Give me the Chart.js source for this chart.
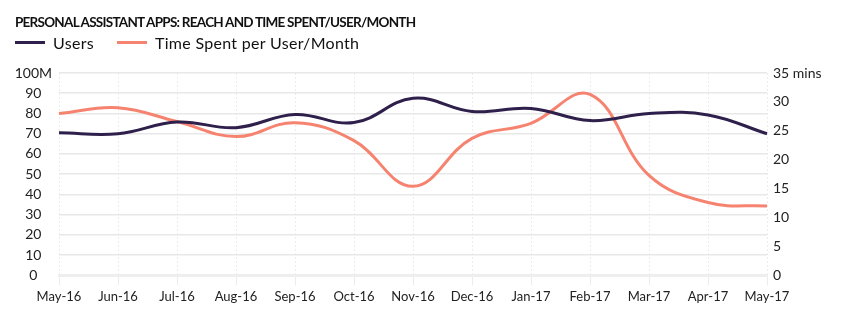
<!DOCTYPE html>
<html>
<head>
<meta charset="utf-8">
<script src="https://cdn.jsdelivr.net/npm/chart.js@4"></script>
<style>
  html, body { margin: 0; padding: 0; background: #fff; }
  #wrap { position: relative; width: 846px; height: 331px; font-family: Lato, "Open Sans", sans-serif; color: #111; }
  #wrap canvas { position: absolute; left: 0; top: 0; }
  .title { position: absolute; left: 15px; top: 14px; font-size: 13.5px; font-weight: 700; letter-spacing: -0.75px; white-space: nowrap; }
  .legend { position: absolute; left: 15px; top: 33px; display: flex; font-size: 16px; letter-spacing: 0.3px; white-space: nowrap; }
  .legend .item { display: flex; align-items: center; margin-right: 23px; }
  .legend .swatch { width: 30px; height: 3px; margin-right: 8px; }
</style>
</head>
<body>
<div id="wrap">
  <canvas id="chart"></canvas>
  <div class="title">PERSONAL ASSISTANT APPS: REACH AND TIME SPENT/USER/MONTH</div>
  <div class="legend" id="legend"></div>
</div>
<script>
const months = ['May-16', 'Jun-16', 'Jul-16', 'Aug-16', 'Sep-16', 'Oct-16', 'Nov-16',
  'Dec-16', 'Jan-17', 'Feb-17', 'Mar-17', 'Apr-17', 'May-17'];

// monthly users, millions
const users = [70.5, 70, 75.8, 73, 79.5, 75.5, 87.5, 81, 82.5, 76.5, 80, 79.3, 70];
// minutes spent per user each month
const timeSpent = [28, 29, 26.6, 24, 26.4, 23.3, 15.4, 23.7, 26.3, 31.3, 17.3, 12.6, 12];

const usersTicks = [0, 10, 20, 30, 40, 50, 60, 70, 80, 90, 100];
const minsTicks = [0, 5, 10, 15, 20, 25, 30, 35];

const purple = '#2e1f4b';
const salmon = '#f6836f';

Chart.defaults.font.family = 'Lato, "Open Sans", sans-serif';
Chart.defaults.color = '#222';

const chart = new Chart(document.getElementById('chart'), {
  type: 'line',
  data: {
    labels: months,
    datasets: [{
      label: 'Users',
      data: users,
      yAxisID: 'y',
      borderColor: purple,
      backgroundColor: purple,
      borderWidth: 3,
      pointRadius: 0,
      tension: 0.4
    }, {
      label: 'Time Spent per User/Month',
      data: timeSpent,
      yAxisID: 'y1',
      borderColor: salmon,
      backgroundColor: salmon,
      borderWidth: 3,
      pointRadius: 0,
      tension: 0.4
    }]
  },
  options: {
    responsive: true,
    maintainAspectRatio: false,
    animation: false,
    layout: { padding: { left: 15, right: 0, top: 73, bottom: 22 } },
    plugins: {
      legend: { display: false },
      tooltip: { enabled: false }
    },
    scales: {
      x: {
        ticks: { maxRotation: 0, autoSkip: false, font: { size: 13 }, padding: 4 },
        grid: { color: '#ececec', lineWidth: 1, tickLength: 10 },
        border: { display: true, color: '#eeeeee', width: 3, dash: [2, 2] }
      },
      y: {
        position: 'left',
        min: 0,
        max: 100,
        afterBuildTicks: s => { s.ticks = usersTicks.map(v => ({ value: v })); },
        afterFit: s => { s.width = 44; },
        ticks: {
          font: { size: 14 },
          padding: 7,
          crossAlign: 'center',
          callback: v => v === 100 ? '100M' : v
        },
        grid: { color: '#e8e8e8', lineWidth: 1.5, drawTicks: false },
        border: { display: false }
      },
      y1: {
        position: 'right',
        min: 0,
        max: 35,
        afterBuildTicks: s => { s.ticks = minsTicks.map(v => ({ value: v })); },
        afterFit: s => { s.width = 79; },
        ticks: {
          font: { size: 14 },
          padding: 6,
          callback: v => v === 35 ? '35 mins' : v
        },
        grid: { drawOnChartArea: false, drawTicks: false },
        border: { display: false }
      }
    }
  }
});

// legend built from the datasets
const legendEl = document.getElementById('legend');
chart.data.datasets.forEach(ds => {
  const item = document.createElement('div');
  item.className = 'item';
  const swatch = document.createElement('span');
  swatch.className = 'swatch';
  swatch.style.background = ds.borderColor;
  const text = document.createElement('span');
  text.textContent = ds.label;
  item.append(swatch, text);
  legendEl.appendChild(item);
});
</script>
</body>
</html>
